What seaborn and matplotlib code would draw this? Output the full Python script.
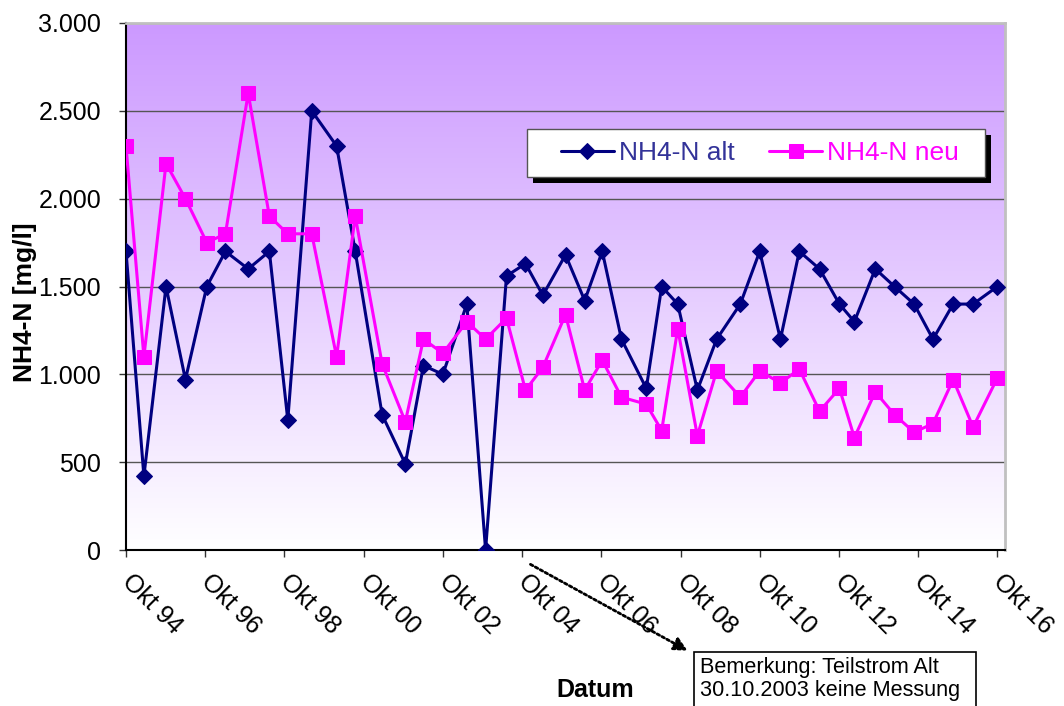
import matplotlib
matplotlib.use("Agg")
import matplotlib.pyplot as plt
import matplotlib.dates as mdates
from matplotlib.ticker import FuncFormatter, MultipleLocator
from matplotlib.colors import LinearSegmentedColormap
from matplotlib.patches import Rectangle
import seaborn as sns
import pandas as pd
import numpy as np

dates = [
    "1994-10-01", "1995-03-15", "1995-10-05", "1996-04-01", "1996-10-15",
    "1997-04-05", "1997-11-01", "1998-05-15", "1998-11-01", "1999-06-10",
    "2000-01-25", "2000-07-15", "2001-03-20", "2001-10-20", "2002-04-05",
    "2002-10-01", "2003-05-10", "2003-10-30", "2004-05-10", "2004-11-01",
    "2005-04-10", "2005-11-05", "2006-05-01", "2006-10-10", "2007-04-05",
    "2007-11-20", "2008-04-10", "2008-09-05", "2009-03-05", "2009-08-30",
    "2010-04-05", "2010-10-01", "2011-04-10", "2011-10-01", "2012-04-05",
    "2012-10-05", "2013-02-20", "2013-09-01", "2014-02-25", "2014-08-25",
    "2015-02-15", "2015-08-20", "2016-02-20", "2016-10-01",
]

nh4_alt = [
    1700, 420, 1500, 970, 1500, 1700, 1600, 1700, 740, 2500,
    2300, 1700, 770, 490, 1050, 1000, 1400, 0, 1560, 1630,
    1450, 1680, 1420, 1700, 1200, 920, 1500, 1400, 910, 1200,
    1400, 1700, 1200, 1700, 1600, 1400, 1300, 1600, 1500, 1400,
    1200, 1400, 1400, 1500,
]

nh4_neu = [
    2300, 1100, 2200, 2000, 1750, 1800, 2600, 1900, 1800, 1800,
    1100, 1900, 1060, 730, 1200, 1120, 1300, 1200, 1320, 910,
    1040, 1340, 910, 1080, 870, 830, 680, 1260, 650, 1020,
    870, 1020, 950, 1030, 790, 920, 640, 900, 770, 670,
    720, 970, 700, 980,
]

df = pd.DataFrame({
    "Datum": pd.to_datetime(dates),
    "NH4-N alt": nh4_alt,
    "NH4-N neu": nh4_neu,
})

sns.set_style("white")
plt.rcParams["font.family"] = ["Liberation Sans", "DejaVu Sans"]
plt.rcParams["text.color"] = "black"
plt.rcParams["axes.labelcolor"] = "black"

fig = plt.figure(figsize=(10.64, 7.06), dpi=100)
ax = fig.add_axes([126 / 1064, 1 - 550 / 706, 879 / 1064, 527 / 706])

# purple -> white gradient background of the plot area
cmap = LinearSegmentedColormap.from_list("bg", ["#ffffff", "#cc99ff"])
grad = np.linspace(0, 1, 256).reshape(-1, 1)
ax.imshow(grad, cmap=cmap, aspect="auto", extent=[0, 1, 0, 1],
          origin="lower", transform=ax.transAxes, zorder=0)

sns.lineplot(x="Datum", y="NH4-N alt", data=df, ax=ax, color="#000080",
             marker="D", markersize=8, markeredgecolor="#000080",
             linewidth=2.2, label="NH4-N alt", zorder=3)
sns.lineplot(x="Datum", y="NH4-N neu", data=df, ax=ax, color="#ff00ff",
             marker="s", markersize=10, markeredgecolor="#ff00ff",
             linewidth=2.2, label="NH4-N neu", zorder=3)

ax.set_xlim(pd.Timestamp("1994-10-01"), pd.Timestamp("2016-12-10"))
ax.set_ylim(0, 3000)

ax.yaxis.set_major_locator(MultipleLocator(500))
ax.yaxis.set_major_formatter(FuncFormatter(lambda v, p: f"{int(v):,}".replace(",", ".")))
ax.xaxis.set_major_locator(mdates.YearLocator(base=2, month=10, day=1))
ax.xaxis.set_major_formatter(FuncFormatter(
    lambda v, p: f"Okt {mdates.num2date(v).year % 100:02d}"))

ax.grid(axis="y", color="#555555", linewidth=1, zorder=1)
ax.grid(axis="x", visible=False)
ax.set_axisbelow(True)

for s in ["left", "bottom"]:
    ax.spines[s].set_color("black")
    ax.spines[s].set_linewidth(1.5)
for s in ["top", "right"]:
    ax.spines[s].set_color("#c0c0c0")
    ax.spines[s].set_linewidth(2)

ax.tick_params(axis="y", direction="out", length=5, width=1, color="#333333",
               labelsize=18, pad=13, left=True, labelcolor="black")
ax.tick_params(axis="x", direction="out", length=5, width=1, color="#333333",
               labelsize=18, pad=15, bottom=True, labelcolor="black")
for lbl in ax.get_xticklabels():
    lbl.set_rotation(-45)
    lbl.set_ha("left")
    lbl.set_va("center")
    lbl.set_rotation_mode("anchor")

ax.set_xlabel("Datum", fontsize=18, fontweight="bold")
ax.xaxis.set_label_coords(0.5336, -0.243)
ax.set_ylabel("NH4-N [mg/l]", fontsize=19, fontweight="bold")
ax.yaxis.set_label_coords(-0.101, 0.47)

# legend box with a solid black shadow (Excel style)
bx0, bx1 = (527 - 126) / 879, (985 - 126) / 879
by0, by1 = (550 - 177) / 527, (550 - 129) / 527
dx, dy = 6 / 879, 6 / 527
ax.add_patch(Rectangle((bx0 + dx, by0 - dy), bx1 - bx0, by1 - by0,
                       transform=ax.transAxes, facecolor="black",
                       edgecolor="none", zorder=5, clip_on=False))
ax.add_patch(Rectangle((bx0, by0), bx1 - bx0, by1 - by0,
                       transform=ax.transAxes, facecolor="white",
                       edgecolor="#555555", linewidth=1, zorder=5.5, clip_on=False))

leg = ax.legend(loc="center left", bbox_to_anchor=((561 - 126) / 879, 0.753), ncol=2,
                fontsize=19, frameon=False, borderaxespad=0, borderpad=0,
                handlelength=2.0, handletextpad=0.2, columnspacing=1.3)
leg.set_zorder(6)
leg.get_texts()[0].set_color("#333399")
leg.get_texts()[1].set_color("#ff00ff")

# remark for the missing measurement
ax.annotate("", xy=(690, 706 - 652), xycoords="figure pixels",
            xytext=(528, 706 - 563), textcoords="figure pixels",
            arrowprops=dict(arrowstyle="-|>", linestyle=(0, (1, 1)), lw=2,
                            color="black", mutation_scale=20),
            annotation_clip=False)
fig.patches.append(Rectangle((694 / 1064, -0.05), (976 - 694) / 1064, 0.05 + 54 / 706,
                             transform=fig.transFigure, facecolor="white",
                             edgecolor="black", linewidth=1.2))
fig.text(700 / 1064, 1 - 657 / 706, "Bemerkung: Teilstrom Alt\n30.10.2003 keine Messung",
         fontsize=15.6, ha="left", va="top", linespacing=1.1)

plt.savefig("out.png", dpi=100)
